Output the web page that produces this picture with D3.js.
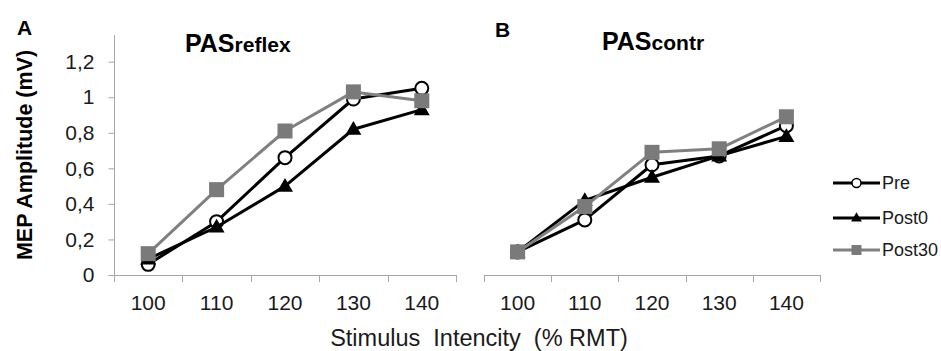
<!DOCTYPE html>
<html>
<head>
<meta charset="utf-8">
<script src="https://cdn.jsdelivr.net/npm/d3@7"></script>
<style>
  html, body { margin: 0; padding: 0; background: #fff; }
  svg { display: block; font-family: "Liberation Sans", Arial, sans-serif; }
</style>
</head>
<body>
<svg id="chart" width="941" height="351"></svg>
<script>
// ---- data ----
const categories = ["100", "110", "120", "130", "140"];
const seriesNames = ["Pre", "Post0", "Post30"];
const reflexPre    = [0.06, 0.30, 0.66, 0.99, 1.05];
const reflexPost0  = [0.09, 0.27, 0.50, 0.82, 0.93];
const reflexPost30 = [0.12, 0.48, 0.81, 1.03, 0.98];
const contrPre     = [0.13, 0.31, 0.62, 0.67, 0.84];
const contrPost0   = [0.13, 0.42, 0.55, 0.67, 0.78];
const contrPost30  = [0.13, 0.385, 0.69, 0.71, 0.89];
const yTickValues  = [0, 0.2, 0.4, 0.6, 0.8, 1, 1.2];
const yTickLabels  = ["0", "0,2", "0,4", "0,6", "0,8", "1", "1,2"];
const yMax = 1.35;

const panels = [
  { key: "A", title: "PAS", sub: "reflex", data: [reflexPre, reflexPost0, reflexPost30],
    x0: 114, x1: 456, showY: true, titleX: 185, titleY: 52, labelX: 17, labelY: 35 },
  { key: "B", title: "PAS", sub: "contr", data: [contrPre, contrPost0, contrPost30],
    x0: 484, x1: 820, showY: false, titleX: 602, titleY: 50, labelX: 495, labelY: 37 }
];

const styles = [
  { stroke: "#000000", marker: "circle", fill: "#ffffff", mstroke: "#000000" },
  { stroke: "#000000", marker: "triangle", fill: "#000000", mstroke: "#000000" },
  { stroke: "#808080", marker: "square", fill: "#7a7a7a", mstroke: "#7a7a7a" }
];

const svg = d3.select("#chart");
const yTop = 35, yBottom = 275;
const y = d3.scaleLinear().domain([0, yMax]).range([yBottom, yTop]);
const axisColor = "#a6a6a6";
const textColor = "#1a1a1a";

function drawMarker(g, type, cx, cy, st) {
  if (type === "circle") {
    g.append("circle").attr("cx", cx).attr("cy", cy).attr("r", 6.5)
      .attr("fill", st.fill).attr("stroke", st.mstroke).attr("stroke-width", 2);
  } else if (type === "triangle") {
    g.append("path").attr("d", d3.symbol(d3.symbolTriangle, 110)())
      .attr("transform", `translate(${cx},${cy + 1})`).attr("fill", st.fill);
  } else {
    g.append("rect").attr("x", cx - 7.5).attr("y", cy - 7.5).attr("width", 15).attr("height", 15)
      .attr("fill", st.fill);
  }
}

panels.forEach(p => {
  const x = d3.scaleBand().domain(categories).range([p.x0, p.x1]);
  const g = svg.append("g");

  // x axis baseline and ticks at category boundaries
  g.append("line").attr("x1", p.x0).attr("x2", p.x1).attr("y1", yBottom + 0.5).attr("y2", yBottom + 0.5)
    .attr("stroke", axisColor).attr("stroke-width", 1);
  const edges = categories.map(c => x(c)).concat([p.x1]);
  g.selectAll(".xt").data(edges).enter().append("line")
    .attr("x1", d => Math.round(d) + 0.5).attr("x2", d => Math.round(d) + 0.5)
    .attr("y1", yBottom).attr("y2", yBottom + 7)
    .attr("stroke", axisColor);
  g.selectAll(".xl").data(categories).enter().append("text")
    .attr("x", d => x(d) + x.bandwidth() / 2).attr("y", 310)
    .attr("text-anchor", "middle").attr("font-size", 21).attr("fill", textColor)
    .text(d => d);

  if (p.showY) {
    const yAxis = d3.axisLeft(y).tickValues(yTickValues)
      .tickFormat((d, i) => yTickLabels[i]).tickSize(6).tickSizeOuter(0).tickPadding(14);
    const ya = g.append("g").attr("transform", `translate(${p.x0 + 0.5},0)`).call(yAxis);
    ya.select(".domain").attr("stroke", axisColor).attr("d", `M0,${yBottom}V${yTop}`);
    ya.selectAll(".tick line").attr("stroke", axisColor);
    ya.selectAll(".tick text").attr("font-size", 21).attr("fill", textColor)
      .attr("font-family", "Liberation Sans, Arial, sans-serif");
  }

  // series
  p.data.forEach((vals, si) => {
    const st = styles[si];
    const line = d3.line().x((d, i) => x(categories[i]) + x.bandwidth() / 2).y(d => y(d));
    g.append("path").datum(vals).attr("d", line).attr("fill", "none")
      .attr("stroke", st.stroke).attr("stroke-width", 3).attr("stroke-linejoin", "round");
    vals.forEach((v, i) => drawMarker(g, st.marker, x(categories[i]) + x.bandwidth() / 2, y(v), st));
  });

  // panel title
  const t = g.append("text").attr("x", p.titleX).attr("y", p.titleY)
    .attr("font-weight", "bold").attr("fill", "#000");
  t.append("tspan").attr("font-size", 25).text(p.title);
  t.append("tspan").attr("font-size", 21).text(p.sub);

  // panel letter
  g.append("text").attr("x", p.labelX).attr("y", p.labelY).attr("font-size", 21)
    .attr("font-weight", "bold").attr("fill", "#000").text(p.key);
});

// y axis title
svg.append("text").attr("transform", "translate(32,155) rotate(-90)")
  .attr("text-anchor", "middle").attr("font-size", 21.5).attr("font-weight", "bold")
  .attr("fill", "#000").text("MEP Amplitude (mV)");

// x axis title
svg.append("text").attr("x", 479).attr("y", 346).attr("text-anchor", "middle")
  .attr("font-size", 23.5).attr("fill", textColor).attr("xml:space", "preserve")
  .style("white-space", "pre").text("Stimulus  Intencity  (% RMT)");

// legend
const legY = [183, 218, 250];
seriesNames.forEach((name, i) => {
  const st = styles[i];
  const lg = svg.append("g");
  lg.append("line").attr("x1", 833).attr("x2", 880).attr("y1", legY[i]).attr("y2", legY[i])
    .attr("stroke", st.stroke).attr("stroke-width", 3);
  if (st.marker === "circle") {
    lg.append("circle").attr("cx", 856.5).attr("cy", legY[i]).attr("r", 4.5)
      .attr("fill", "#fff").attr("stroke", "#000").attr("stroke-width", 1.5);
  } else if (st.marker === "triangle") {
    lg.append("path").attr("d", d3.symbol(d3.symbolTriangle, 50)())
      .attr("transform", `translate(856.5,${legY[i] + 0.5})`).attr("fill", "#000");
  } else {
    lg.append("rect").attr("x", 851.5).attr("y", legY[i] - 5).attr("width", 10).attr("height", 10)
      .attr("fill", st.fill);
  }
  lg.append("text").attr("x", 882).attr("y", legY[i]).attr("dy", "0.36em")
    .attr("font-size", 18).attr("fill", textColor).text(name);
});
</script>
</body>
</html>
